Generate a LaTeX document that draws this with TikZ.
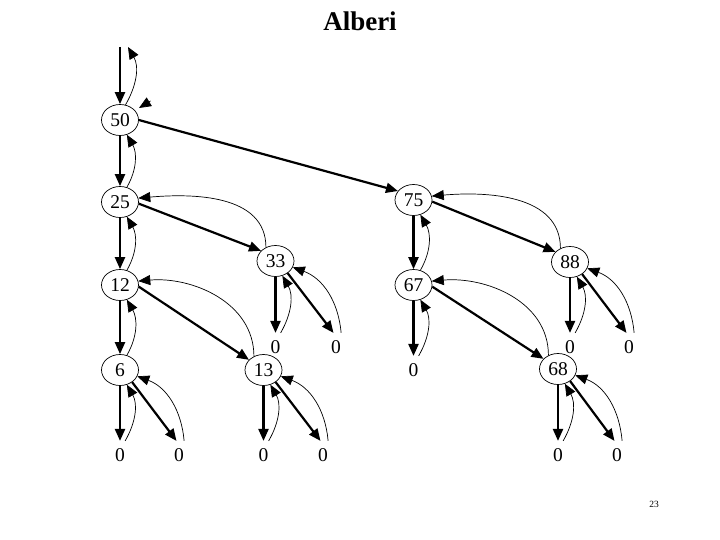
\documentclass[tikz,border=0pt]{standalone}
\usepackage{fontspec}
\setmainfont{Liberation Serif}
\usetikzlibrary{shapes.geometric,arrows.meta}
\begin{document}
\begin{tikzpicture}[x=1pt,y=-1pt,
 key/.style={ellipse,draw,line width=0.7pt,minimum width=37pt,minimum height=31pt,inner sep=0pt,font=\fontsize{19.5}{19.5}\selectfont},
 nil/.style={inner sep=7.5pt,outer sep=0pt,font=\fontsize{19.5}{19.5}\selectfont},
 tree/.style={line width=2.2pt,-{Triangle[length=12pt,width=10pt]}},
 back/.style={line width=0.7pt,-{Triangle[length=12pt,width=10pt]}},
]
\useasboundingbox (0,0) rectangle (720,540);
\node[font=\bfseries\fontsize{27}{27}\selectfont] (title) at (360,21) {Alberi};
\node[font=\fontsize{9.5}{9.5}\selectfont] (pg) at (654,504) {23};
% keys
\node[key] (n50) at (120,120) {50};
\node[key] (n25) at (120,202) {25};
\node[key] (n75) at (413.5,200) {75};
\node[key] (n33) at (275.5,261) {33};
\node[key] (n88) at (570,262) {88};
\node[key] (n12) at (120,285) {12};
\node[key] (n67) at (413.5,285) {67};
\node[key] (n6) at (120,370) {6};
\node[key] (n13) at (263.5,370) {13};
\node[key] (n68) at (558,369) {68};
% nil children
\node[nil] (z33a) at (275.5,347) {0};
\node[nil] (z33b) at (336,347) {0};
\node[nil] (z88a) at (570,347) {0};
\node[nil] (z88b) at (629,347) {0};
\node[nil] (z67a) at (413.5,370) {0};
\node[nil] (z6a) at (120,455) {0};
\node[nil] (z6b) at (179,455) {0};
\node[nil] (z13a) at (263.5,455) {0};
\node[nil] (z13b) at (323,455) {0};
\node[nil] (z68a) at (558,455) {0};
\node[nil] (z68b) at (617,455) {0};
% root entry
\coordinate (top) at (120,47);
\coordinate (topback) at (128,47);
\coordinate (stray) at (150.5,101);
\coordinate (straytip) at (139,108);
\draw[tree] (top) -- (n50.north);
\draw[back] (n50.70) to[out=60,in=-60] (topback);
\draw[back] (stray) -- (straytip);
% 50 -> 75
\draw[tree] (n50.east) -- (n75.150);
% vertical left links
\foreach \p/\c in {n50/n25, n25/n12, n12/n6, n75/n67}{
  \draw[tree] (\p.south) -- (\c.north);
  \draw[back] (\c.65) to[out=60,in=-60] (\p.-65);
}
\foreach \p/\c in {n33/z33a, n88/z88a, n67/z67a, n6/z6a, n13/z13a, n68/z68a}{
  \draw[tree] (\p.south) -- (\c.north);
  \draw[back] (\c.70) to[out=60,in=-60] (\p.-65);
}
% long right links
\foreach \p/\c in {n25/n33, n75/n88, n12/n13, n67/n68}{
  \draw[tree] (\p.-5) -- (\c.145);
  \draw[back] (\c.125) to[out=90,in=5] (\p.12);
}
% short right links to nil
\foreach \p/\c in {n33/z33b, n88/z88b, n6/z6b, n13/z13b, n68/z68b}{
  \draw[tree] (\p.-45) -- (\c.100);
  \draw[back] (\c.70) to[out=95,in=-20] (\p.-20);
}
\end{tikzpicture}
\end{document}
